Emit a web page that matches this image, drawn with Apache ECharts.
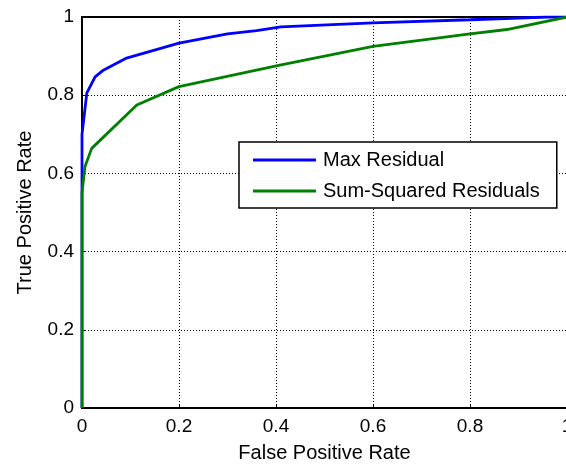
<!DOCTYPE html>
<html>
<head>
<meta charset="utf-8">
<script src="https://cdn.jsdelivr.net/npm/echarts@6/dist/echarts.min.js"></script>
<style>
  html, body { margin: 0; padding: 0; background: #fff; }
  #main { width: 566px; height: 466px; }
</style>
</head>
<body>
<div id="main"></div>
<script>
// ROC curves: [false positive rate, true positive rate]
var seriesNames = ['Max Residual', 'Sum-Squared Residuals'];
var maxResidual = [
    [0, 0], [0, 0.70], [0.01, 0.806], [0.027, 0.847], [0.044, 0.864],
    [0.09, 0.894], [0.2, 0.933], [0.3, 0.957], [0.36, 0.965], [0.41, 0.975],
    [0.6, 0.985], [0.8, 0.993], [0.96, 1.0], [1, 1]
];
var sumSquared = [
    [0, 0], [0, 0.55], [0.006, 0.617], [0.02, 0.664], [0.113, 0.775],
    [0.2, 0.822], [0.408, 0.877], [0.6, 0.925], [0.8, 0.957],
    [0.876, 0.968], [1, 1]
];
var tickStep = 0.2;

var chartDom = document.getElementById('main');
var myChart = echarts.init(chartDom);
var font = 'Liberation Sans, Arial, sans-serif';

var axisCommon = {
    type: 'value',
    min: 0,
    max: 1,
    interval: tickStep,
    axisLine: { show: true, lineStyle: { color: '#000', width: 2 } },
    axisTick: { show: true, inside: true, length: 4, lineStyle: { color: '#000' } },
    splitLine: { show: true, lineStyle: { color: '#000', type: [1, 2], width: 1 } },
    axisLabel: { color: '#000', fontSize: 19, fontFamily: font, margin: 8 },
    nameLocation: 'middle',
    nameTextStyle: { color: '#000', fontSize: 20, fontFamily: font }
};

var option = {
    backgroundColor: '#fff',
    animation: false,
    grid: {
        left: 82, right: -1, top: 17, bottom: 58,
        show: true, borderColor: '#000', borderWidth: 2,
        containLabel: false, outerBoundsMode: 'none'
    },
    xAxis: Object.assign({}, axisCommon, {
        name: 'False Positive Rate',
        nameGap: 35,
        axisLabel: Object.assign({}, axisCommon.axisLabel, { margin: 9 })
    }),
    yAxis: Object.assign({}, axisCommon, {
        name: 'True Positive Rate',
        nameGap: 47
    }),
    legend: {
        orient: 'vertical',
        left: 239,
        top: 142,
        padding: [8, 17, 7, 14],
        itemGap: 11,
        itemWidth: 63,
        itemHeight: 3,
        icon: 'rect',
        backgroundColor: '#fff',
        borderColor: '#000',
        borderWidth: 1.5,
        borderRadius: 0,
        textStyle: { color: '#000', fontSize: 20, lineHeight: 18, fontFamily: font, padding: [0, 0, 0, 2] },
        data: seriesNames
    },
    series: [
        {
            name: seriesNames[0],
            type: 'line',
            data: maxResidual,
            symbol: 'none',
            lineStyle: { color: '#0000ff', width: 2.8 },
            itemStyle: { color: '#0000ff' }
        },
        {
            name: seriesNames[1],
            type: 'line',
            data: sumSquared,
            symbol: 'none',
            lineStyle: { color: '#008000', width: 2.8 },
            itemStyle: { color: '#008000' }
        }
    ]
};
option && myChart.setOption(option);
</script>
</body>
</html>
